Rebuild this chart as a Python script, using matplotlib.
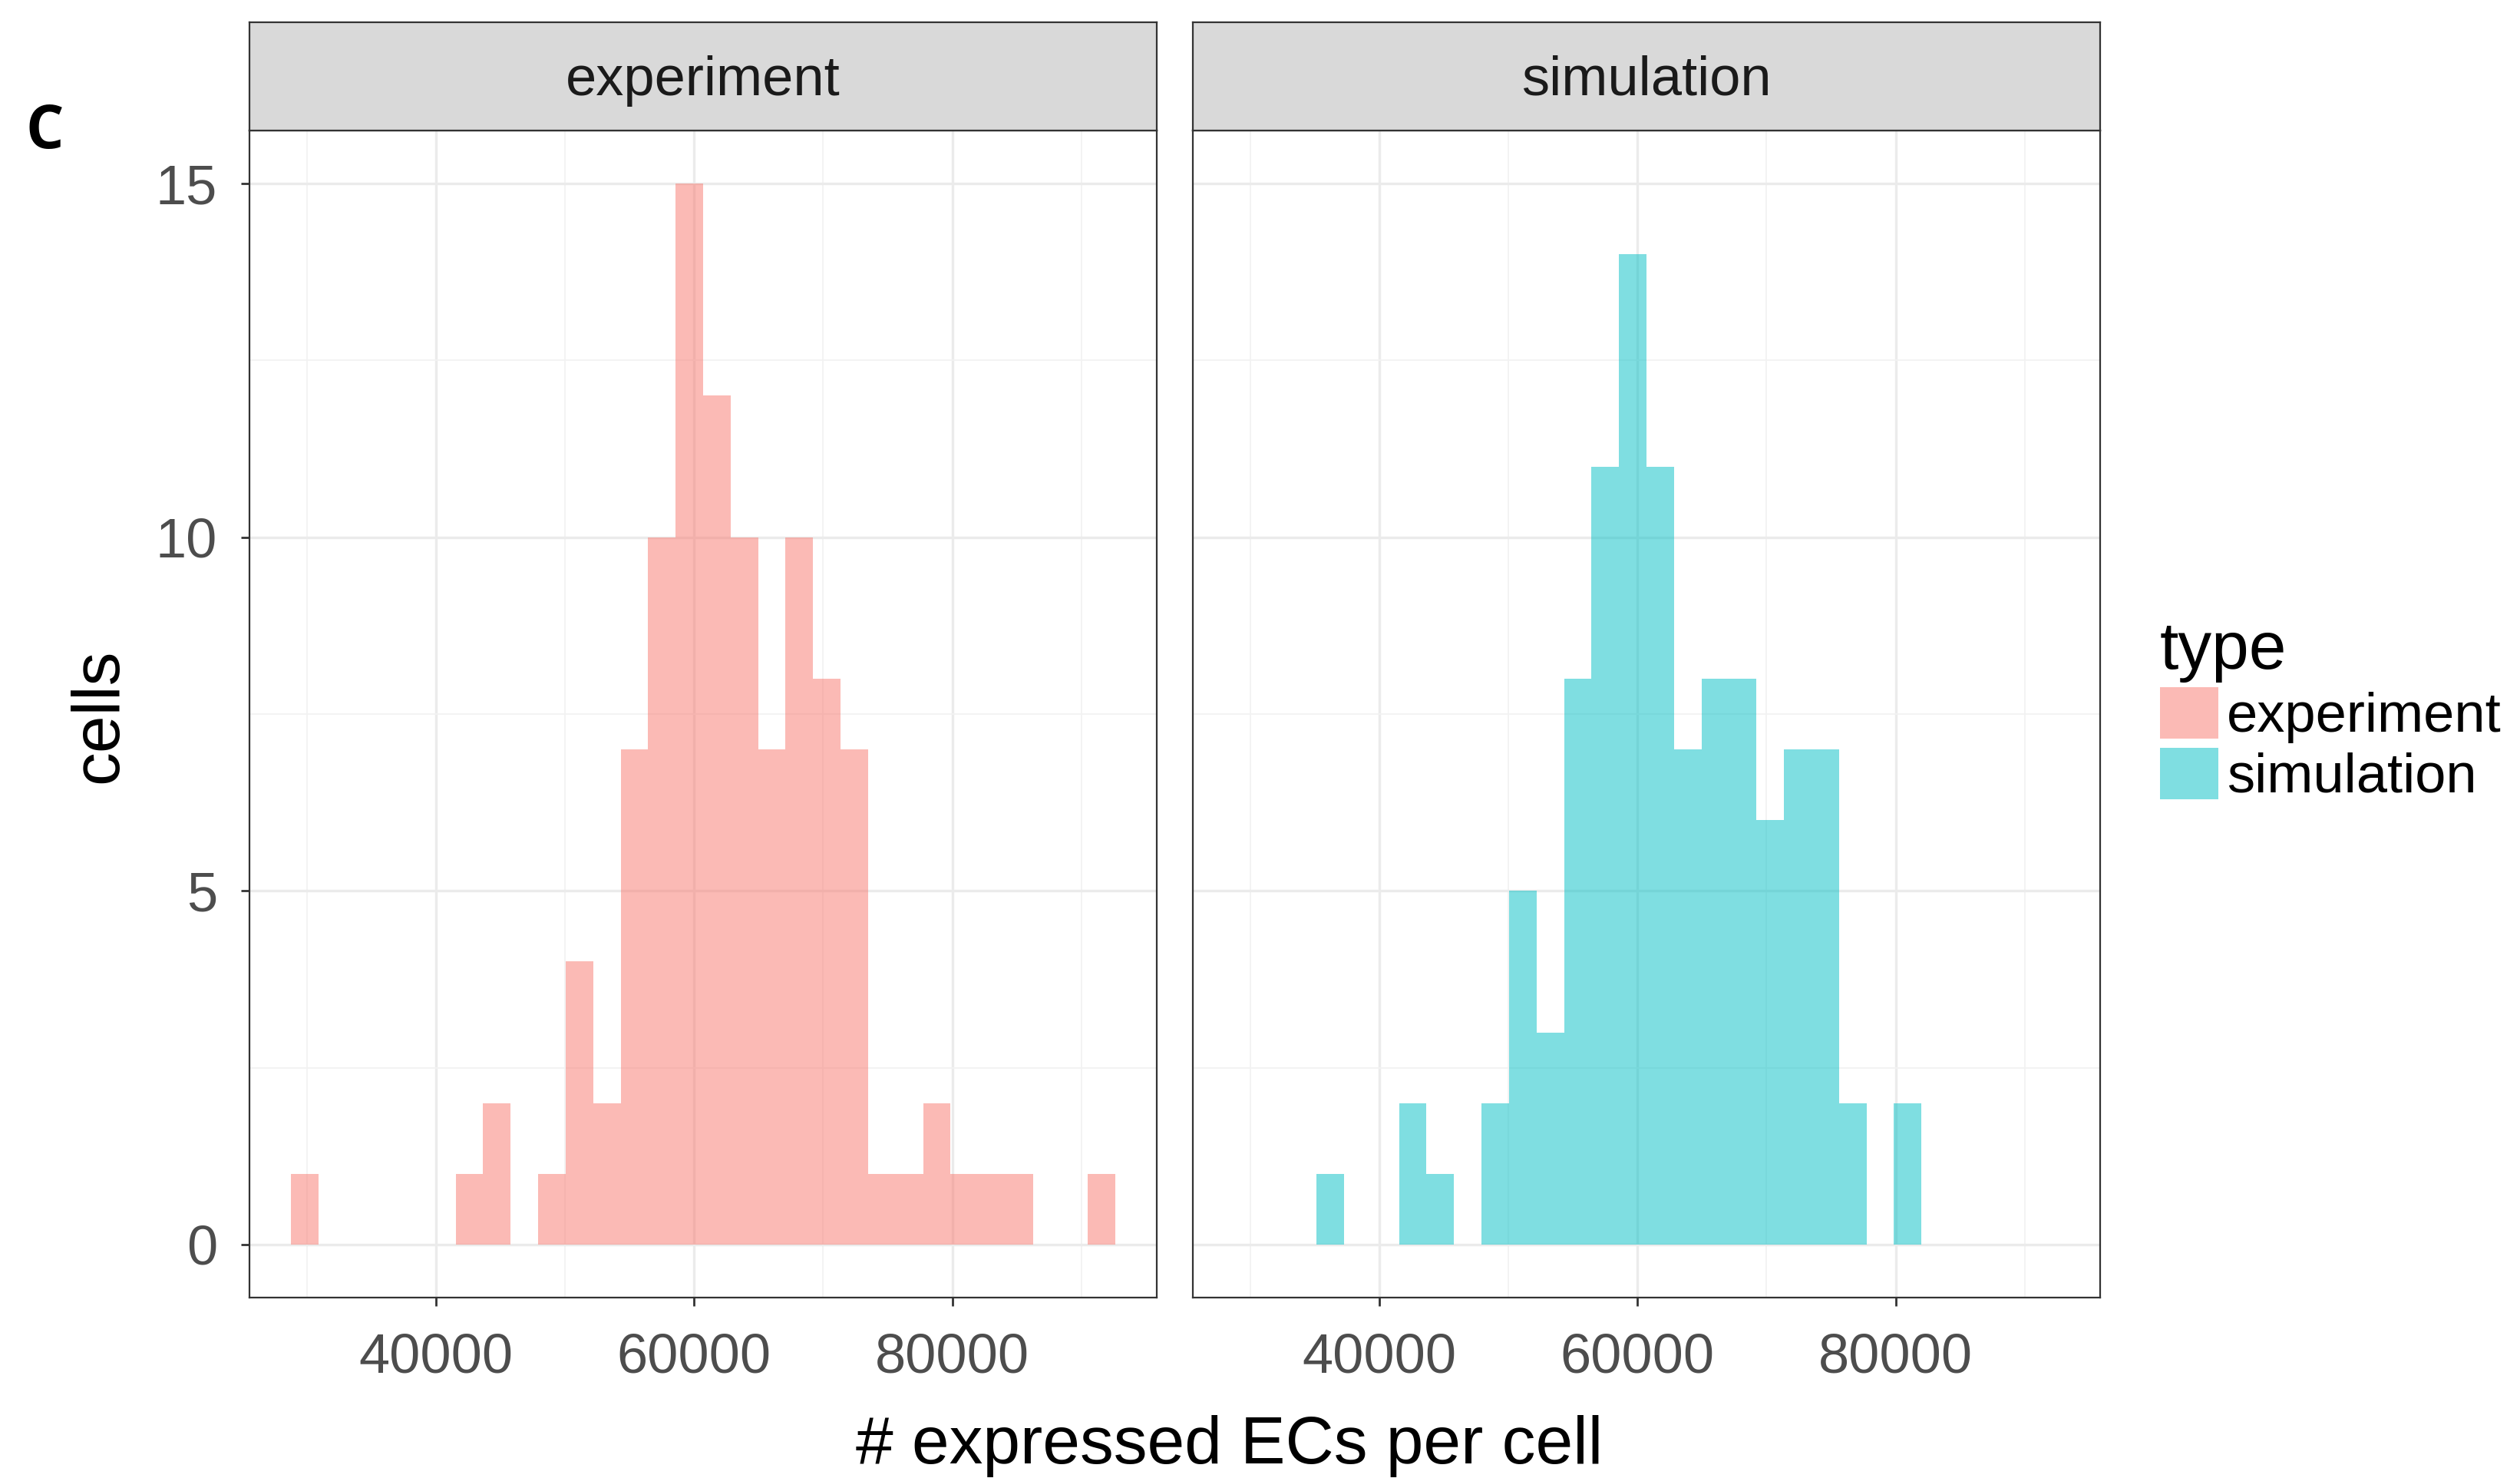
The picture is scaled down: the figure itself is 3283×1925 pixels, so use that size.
import numpy as np
import matplotlib
matplotlib.use("Agg")
import matplotlib.pyplot as plt
from matplotlib.patches import Patch

plt.rcParams['font.family'] = ['Liberation Sans', 'DejaVu Sans']

# histogram bins (30 bins, same edges for both panels)
bin_start = 28750
bin_width = 2130
n_bins = 30

panels = ['experiment', 'simulation']
experiment_counts = [1, 0, 0, 0, 0, 0, 1, 2, 0, 1, 4, 2, 7, 10, 15,
                     12, 10, 7, 10, 8, 7, 1, 1, 2, 1, 1, 1, 0, 0, 1]
simulation_counts = [0, 0, 0, 1, 0, 0, 2, 1, 0, 2, 5, 3, 8, 11, 14,
                     11, 7, 8, 8, 6, 7, 7, 2, 0, 2, 0, 0, 0, 0, 0]
colors = ['#F8766D', '#00BFC4']

x_ticks = [40000, 60000, 80000]
x_minor = [30000, 50000, 70000, 90000]
y_ticks = [0, 5, 10, 15]
y_minor = [2.5, 7.5, 12.5]

edges = bin_start + bin_width * np.arange(n_bins + 1)
span = edges[-1] - edges[0]
xlim = (edges[0] - 0.05 * span, edges[-1] + 0.05 * span)
ylim = (-0.75, 15.75)

W, H = 3283, 1925
fig = plt.figure(figsize=(W / 100, H / 100), dpi=100)

tick_fs = 52
grey20 = '#333333'

panel_x = [325, 1554]
panel_w = 1182
panel_top, panel_bot = 170, 1690
strip_top = 29

for i, (name, counts, col) in enumerate(zip(panels, [experiment_counts, simulation_counts], colors)):
    ax = fig.add_axes([panel_x[i] / W, 1 - panel_bot / H, panel_w / W, (panel_bot - panel_top) / H])
    ax.stairs(counts, edges, fill=True, color=col, alpha=0.5, linewidth=0, zorder=2)
    ax.set_xlim(*xlim)
    ax.set_ylim(*ylim)
    ax.set_xticks(x_ticks)
    ax.set_xticks(x_minor, minor=True)
    ax.set_yticks(y_ticks)
    ax.set_yticks(y_minor, minor=True)
    ax.set_xticklabels([str(t) for t in x_ticks])
    ax.grid(which='major', color='#EBEBEB', linewidth=2.4, zorder=0)
    ax.grid(which='minor', color='#F2F2F2', linewidth=1.3, zorder=0)
    ax.set_axisbelow(True)
    ax.tick_params(which='major', length=8, width=2, color=grey20,
                   labelsize=tick_fs, labelcolor='#4D4D4D', pad=22)
    ax.tick_params(axis='x', pad=25)
    ax.tick_params(which='minor', length=0)
    if i > 0:
        ax.tick_params(axis='y', left=False, labelleft=False)
    for s in ax.spines.values():
        s.set_color(grey20)
        s.set_linewidth(1.6)

    # facet strip
    sax = fig.add_axes([panel_x[i] / W, 1 - panel_top / H, panel_w / W, (panel_top - strip_top) / H])
    sax.set_facecolor('#D9D9D9')
    sax.set_xticks([])
    sax.set_yticks([])
    for s in sax.spines.values():
        s.set_color(grey20)
        s.set_linewidth(1.6)
    sax.text(0.5, 0.46, name, ha='center', va='center', fontsize=52, color='#1A1A1A',
             transform=sax.transAxes)

fig.text(1602 / W, 1 - 1884 / H, '# expressed ECs per cell', ha='center', va='center',
         fontsize=63, color='black')
fig.text(130 / W, 1 - 932 / H, 'cells', ha='center', va='center', rotation=90,
         fontsize=63, color='black')
fig.text(34 / W, 1 - 172 / H, 'C', ha='left', va='center', fontsize=56,
         fontweight='bold', family=['Open Sans', 'DejaVu Sans'])

handles = [Patch(facecolor=c, alpha=0.5, edgecolor='none') for c in colors]
fig.legend(handles, panels, title='type', loc='upper left',
           bbox_to_anchor=(2814 / W, 1 - 808 / H), frameon=False,
           fontsize=52, title_fontsize=63, alignment='left',
           handlelength=1.05, handleheight=1.05, handletextpad=0.15,
           labelspacing=0.08, borderpad=0, borderaxespad=0)

fig.savefig('out.png', dpi=100, facecolor='white')
